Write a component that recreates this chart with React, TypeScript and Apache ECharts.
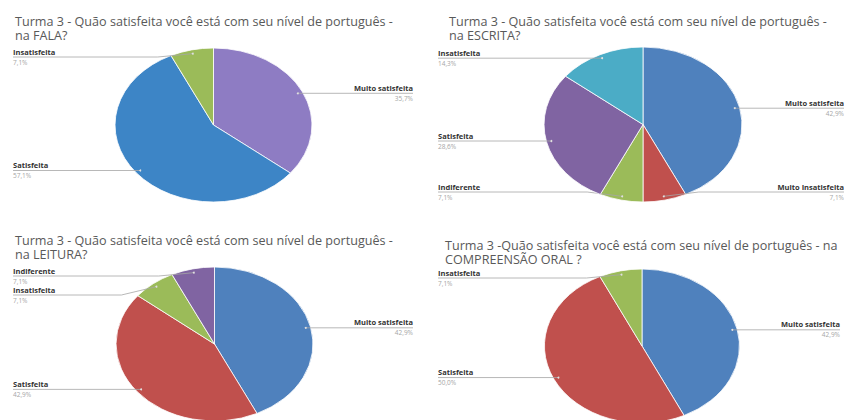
import React, { useEffect, useRef } from "react";
import * as echarts from "echarts";

// Survey answers per skill (percent of respondents)
const falaCategories = ["Muito satisfeita", "Satisfeita", "Insatisfeita"];
const falaValues = [35.7, 57.1, 7.1];
const falaColors = ["#8e7cc3", "#3d85c6", "#9bbb59"];

const escritaCategories = ["Muito satisfeita", "Muito Insatisfeita", "Indiferente", "Satisfeita", "Insatisfeita"];
const escritaValues = [42.9, 7.1, 7.1, 28.6, 14.3];
const escritaColors = ["#4f81bd", "#c0504d", "#9bbb59", "#8064a2", "#4bacc6"];

const leituraCategories = ["Muito satisfeita", "Satisfeita", "Insatisfeita", "Indiferente"];
const leituraValues = [42.9, 42.9, 7.1, 7.1];
const leituraColors = ["#4f81bd", "#c0504d", "#9bbb59", "#8064a2"];

const compreensaoCategories = ["Muito satisfeita", "Satisfeita", "Insatisfeita"];
const compreensaoValues = [42.9, 50.0, 7.1];
const compreensaoColors = ["#4f81bd", "#c0504d", "#9bbb59"];

const titleTexts = [
  "Turma 3 - Quão satisfeita você está com seu nível de português -\nna FALA?",
  "Turma 3 - Quão satisfeita você está com seu nível de português -\nna ESCRITA?",
  "Turma 3 - Quão satisfeita você está com seu nível de português -\nna LEITURA?",
  "Turma 3 -Quão satisfeita você está com seu nível de português - na\nCOMPREENSÃO ORAL ?",
];

interface Panel {
  categories: string[];
  values: number[];
  colors: string[];
  title: string;
  titleX: number;
  titleY: number;
  cx: number;
  cy: number;
  rx: number;
  ry: number;
  leftX: number;
  rightX: number;
}

const panels: Panel[] = [
  { categories: falaCategories, values: falaValues, colors: falaColors, title: titleTexts[0],
    titleX: 15, titleY: 14.6, cx: 213.5, cy: 125, rx: 98.5, ry: 77, leftX: 13, rightX: 413 },
  { categories: escritaCategories, values: escritaValues, colors: escritaColors, title: titleTexts[1],
    titleX: 449, titleY: 14.2, cx: 643, cy: 124.5, rx: 99, ry: 77.5, leftX: 438, rightX: 844 },
  { categories: leituraCategories, values: leituraValues, colors: leituraColors, title: titleTexts[2],
    titleX: 15, titleY: 233, cx: 214.5, cy: 344, rx: 98.5, ry: 77, leftX: 13, rightX: 413 },
  { categories: compreensaoCategories, values: compreensaoValues, colors: compreensaoColors, title: titleTexts[3],
    titleX: 445, titleY: 238, cx: 642, cy: 346, rx: 97.5, ry: 77, leftX: 438, rightX: 840 },
];

const FONT = "'Open Sans', 'Liberation Sans', sans-serif";

interface SliceGeom {
  start: number;
  end: number;
  ax: number;
  ay: number;
  side: "left" | "right";
  lineY: number;
}

// Angles, anchor points and label rows for the slices of one pie
function layoutPie(p: Panel): SliceGeom[] {
  const total = p.values.reduce((a, b) => a + b, 0);
  let acc = 0;
  const geoms: SliceGeom[] = p.values.map((v) => {
    const start = -Math.PI / 2 + (acc / total) * Math.PI * 2;
    acc += v;
    const end = -Math.PI / 2 + (acc / total) * Math.PI * 2;
    const mid = (start + end) / 2;
    const ax = p.cx + 0.95 * p.rx * Math.cos(mid);
    const ay = p.cy + 0.95 * p.ry * Math.sin(mid);
    const side: "left" | "right" = Math.cos(mid) >= 0 ? "right" : "left";
    const lineY = Math.min(Math.max(ay, p.cy - p.ry + 9), p.cy + p.ry - 10);
    return { start, end, ax, ay, side, lineY };
  });
  (["left", "right"] as const).forEach((side) => {
    const group = geoms.filter((g) => g.side === side).sort((a, b) => a.ay - b.ay);
    for (let i = 1; i < group.length; i++) {
      if (group[i].lineY < group[i - 1].lineY + 19) group[i].lineY = group[i - 1].lineY + 19;
    }
  });
  return geoms;
}

function makeSeries(p: Panel) {
  const geoms = layoutPie(p);
  return {
    type: "custom",
    coordinateSystem: "none",
    data: p.values,
    silent: true,
    renderItem: (params: any) => {
      const i = params.dataIndex;
      const g = geoms[i];
      const pct = p.values[i].toFixed(1).replace(".", ",") + "%";
      const edgeX = g.side === "left" ? p.leftX : p.rightX;
      const dir = g.side === "left" ? -1 : 1;
      const pts: number[][] = [[edgeX, g.lineY]];
      if (Math.abs(g.lineY - g.ay) > 0.5) pts.push([g.ax + dir * 35, g.lineY]);
      pts.push([g.ax, g.ay]);
      const align = g.side === "left" ? "left" : "right";
      return {
        type: "group",
        children: [
          {
            type: "sector",
            x: p.cx,
            y: p.cy,
            scaleX: p.rx / p.ry,
            shape: { cx: 0, cy: 0, r0: 0, r: p.ry, startAngle: g.start, endAngle: g.end, clockwise: true },
            style: { fill: p.colors[i], stroke: "#ffffff", lineWidth: 0.7 },
          },
          {
            type: "polyline",
            shape: { points: pts },
            style: { stroke: "#a6a6a6", lineWidth: 0.8, fill: null },
          },
          {
            type: "circle",
            shape: { cx: g.ax, cy: g.ay, r: 1 },
            style: { fill: "#e0e0e0" },
          },
          {
            type: "text",
            x: edgeX,
            y: g.lineY - 1.5,
            style: {
              text: p.categories[i],
              fontSize: 7.5,
              fontWeight: "bold",
              fontFamily: FONT,
              fill: "#333333",
              align,
              verticalAlign: "bottom",
            },
          },
          {
            type: "text",
            x: edgeX,
            y: g.lineY + 1.5,
            style: {
              text: pct,
              fontSize: 6.5,
              fontFamily: FONT,
              fill: "#a6a6a6",
              align,
              verticalAlign: "top",
            },
          },
        ],
      };
    },
  };
}

export default function App() {
  const ref = useRef<HTMLDivElement>(null);

  useEffect(() => {
    document.body.style.margin = "0";
    if (!ref.current) return;
    const chart = echarts.init(ref.current, null, { renderer: "svg" });
    chart.setOption({
      animation: false,
      backgroundColor: "#ffffff",
      title: panels.map((p) => ({
        text: p.title,
        left: p.titleX,
        top: p.titleY,
        padding: 0,
        textStyle: {
          fontSize: 12.6,
          fontWeight: "normal",
          fontFamily: FONT,
          color: "#595959",
          lineHeight: 14,
        },
      })),
      series: panels.map((p) => makeSeries(p)),
    });
    return () => chart.dispose();
  }, []);

  return <div ref={ref} style={{ width: 844, height: 420 }} />;
}
